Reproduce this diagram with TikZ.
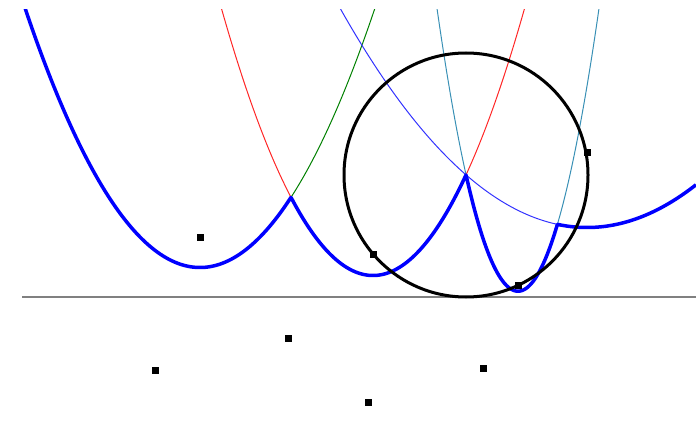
\documentclass[tikz,border=0pt]{standalone}
\begin{document}
\begin{tikzpicture}[x=1mm,y=-1mm,
  declare function={
    fA(\x)=26.75-(\x-20)^2/11.8;
    fB(\x)=27.55-(\x-37.3)^2/8.6;
    fC(\x)=29.12-(\x-51.8)^2/2.32;
    fD(\x)=22.75-(\x-58.7)^2/27.8;
  },
  site/.style={rectangle,fill=black,inner sep=0pt,minimum size=0.7mm},
  thinpar/.style={line width=0.1mm},
  beach/.style={blue,line width=0.35mm,line join=round},
  sweep/.style={gray,line width=0.22mm},
  event/.style={black,line width=0.3mm}]
\useasboundingbox (0,0) rectangle (69.6,42.2);
% sites
\node[site] (A) at (20,23.8) {};
\node[site] (B) at (37.3,25.4) {};
\node[site] (C) at (51.8,28.5) {};
\node[site] (D) at (58.7,15.3) {};
\node[site] (E) at (15.5,37) {};
\node[site] (F) at (28.8,33.8) {};
\node[site] (G) at (36.8,40.2) {};
\node[site] (H) at (48.3,36.8) {};
\coordinate (L1) at (2.2,29.7);
\coordinate (L2) at (69.6,29.7);
\draw[sweep] (L1) -- (L2);
\begin{scope}
\clip (0,1) rectangle (69.6,29.7);
\draw[thinpar,green!50!black] plot[domain=2:40,samples=200] (\x,{fA(\x)});
\draw[thinpar,red!85] plot[domain=20:55,samples=200] (\x,{fB(\x)});
\draw[thinpar,cyan!70!black] plot[domain=42:62,samples=300] (\x,{fC(\x)});
\draw[thinpar,blue!80] plot[domain=30:69.6,samples=200] (\x,{fD(\x)});
\draw[beach] plot[domain=0:69.6,samples=800] (\x,{max(fA(\x),fB(\x),fC(\x),fD(\x))});
\end{scope}
\coordinate (O) at (46.6,17.5);
\draw[event] (O) circle (12.2);
\node[site] at (B) {};
\node[site] at (C) {};
\node[site] at (D) {};
\end{tikzpicture}
\end{document}
